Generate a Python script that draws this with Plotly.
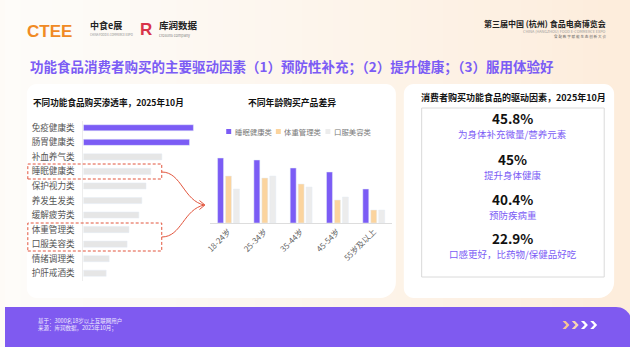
import plotly.graph_objects as go

W, H = 630, 347
FONT = "Noto Sans CJK SC, Noto Sans, sans-serif"
PURPLE = "#7B5CF5"
ORANGE = "#FBD49E"
LGREY = "#ECECEC"
RED = "#E2553D"

# ---------------- data ----------------
pen_categories = ["免疫健康类", "肠胃健康类", "补血养气类", "睡眠健康类", "保护视力类",
                  "养发生发类", "缓解疲劳类", "体重管理类", "口服美容类", "情绪调理类", "护肝戒酒类"]
pen_values = [47.8, 46.1, 34.1, 29.3, 27.2, 25.4, 24.1, 19.8, 19.0, 11.2, 9.9]

age_groups = ["18-24岁", "25-34岁", "35-44岁", "45-54岁", "55岁及以上"]
series_names = ["睡眠健康类", "体重管理类", "口服美容类"]
sleep_vals = [65, 63, 55, 51, 34]
weight_vals = [47, 45, 39, 23, 13]
beauty_vals = [34, 47, 36, 26, 13]

driver_values = ["45.8%", "45%", "40.4%", "22.9%"]
driver_labels = ["为身体补充微量/营养元素", "提升身体健康", "预防疾病重", "口感更好，比药物/保健品好吃"]


# ---------------- helpers ----------------
def px(x):
    return x / W


def py(y):
    return 1 - y / H


def P(x, y):
    return f"{px(x):.5f},{py(y):.5f}"


def rrect(x0, y0, x1, y1, r=(0, 0, 0, 0)):
    """rounded rect path, r=(tl, tr, br, bl) in px"""
    tl, tr, br, bl = r
    k = 0.5523
    s = f"M{P(x0 + tl, y0)} L{P(x1 - tr, y0)} "
    if tr:
        s += f"C{P(x1 - tr + tr * k, y0)} {P(x1, y0 + tr - tr * k)} {P(x1, y0 + tr)} "
    s += f"L{P(x1, y1 - br)} "
    if br:
        s += f"C{P(x1, y1 - br + br * k)} {P(x1 - br + br * k, y1)} {P(x1 - br, y1)} "
    s += f"L{P(x0 + bl, y1)} "
    if bl:
        s += f"C{P(x0 + bl - bl * k, y1)} {P(x0, y1 - bl + bl * k)} {P(x0, y1 - bl)} "
    s += f"L{P(x0, y0 + tl)} "
    if tl:
        s += f"C{P(x0, y0 + tl - tl * k)} {P(x0 + tl - tl * k, y0)} {P(x0 + tl, y0)} "
    return s + "Z"


shapes = []
annos = []


def text(x, y, t, size, color="#222", bold=False, xanchor="left", family=FONT):
    if bold:
        t = f"<b>{t}</b>"
    annos.append(dict(x=px(x), y=py(y), xref="paper", yref="paper", text=t, showarrow=False,
                      xanchor=xanchor, yanchor="middle", borderpad=0,
                      font=dict(size=size, color=color, family=family)))


# background gradient
N = 40
c0 = (254, 252, 249)
c1 = (253, 237, 220)
for i in range(N):
    t = i / (N - 1)
    c = tuple(int(c0[j] + (c1[j] - c0[j]) * t ** 1.2) for j in range(3))
    shapes.append(dict(type="rect", xref="paper", yref="paper", x0=i / N, x1=(i + 1) / N + 0.002,
                       y0=0, y1=1, fillcolor=f"rgb{c}", line_width=0, layer="below"))

# panels
shapes.append(dict(type="path", xref="paper", yref="paper", path=rrect(22, 84, 394, 298, (10, 10, 16, 10)),
                   fillcolor="white", line_width=0, layer="below"))
shapes.append(dict(type="path", xref="paper", yref="paper", path=rrect(402, 84, 614, 298, (10, 10, 16, 10)),
                   fillcolor="white", line_width=0, layer="below"))
shapes.append(dict(type="rect", xref="paper", yref="paper", x0=px(420), x1=px(604), y0=py(277), y1=py(108),
                   fillcolor="rgba(0,0,0,0)", line=dict(color="#DADADA", width=1), layer="below"))

# footer
shapes.append(dict(type="path", xref="paper", yref="paper", path=rrect(0, 307, 632, 348, (0, 16, 0, 0)),
                   fillcolor="#7F5AF0", line_width=0, layer="below"))
chev_cols = ["#F6C494", "#F8D6B4", "#FFFFFF", "#FFFFFF"]
for i, cc in enumerate(chev_cols):
    x = 562 + i * 9.3
    y = 325
    path = (f"M{P(x, y - 4)} L{P(x + 3.2, y - 4)} L{P(x + 7, y)} L{P(x + 3.2, y + 4)} "
            f"L{P(x, y + 4)} L{P(x + 3.8, y)} Z")
    shapes.append(dict(type="path", xref="paper", yref="paper", path=path, fillcolor=cc, line_width=0))
text(32, 320.5, "基于：3000名18岁以上互联网用户", 5.5, "#F1ECFF")
text(32, 327.5, "来源：库润数据，2025年10月；", 5.5, "#F1ECFF")

# header logos
text(21, 31, "CTEE", 17, "#F08A24", bold=True, family="Liberation Sans, Arial")
text(85, 25.5, "中食e展", 9, "#222", bold=True)
text(85, 35, "CHINA FOOD E-COMMERCE EXPO", 2.8, "#888")
text(135, 30, "R", 17, "#D8344A", bold=True, family="Liberation Sans, Arial")
text(154, 25.5, "库润数据", 9.5, "#222", bold=True)
text(154, 35, "crosuns company", 3.8, "#888")
text(607, 24, "第三届中国 (杭州) 食品电商博览会", 8, "#222", bold=True, xanchor="right")
text(607, 31, "CHINA (HANGZHOU) FOOD E-COMMERCE EXPO", 3.8, "#999", xanchor="right")
text(607, 36, "食 配 数 字 赋 能 生 态 创 新 大 会", 3.6, "#666", xanchor="right")

# main title
text(24, 66, "功能食品消费者购买的主要驱动因素（1）预防性补充；（2）提升健康；（3）服用体验好", 13.5, PURPLE, bold=True)

# left chart title
text(27, 102, "不同功能食品购买渗透率，2025年10月", 8.6, "#111", bold=True)
# middle chart title
text(289, 102, "不同年龄购买产品差异", 8.8, "#111", bold=True, xanchor="center")
# right panel title
text(513, 97, "消费者购买功能食品的驱动因素，2025年10月", 9, "#111", bold=True, xanchor="center")

# right panel values
ys = [(117.5, 133.5), (158.5, 174.5), (198.5, 214.5), (237.5, 253.5)]
for (yv, yl), v, lab in zip(ys, driver_values, driver_labels):
    text(512, yv, v, 13.5, "#111", bold=True, xanchor="center")
    text(512, yl, lab, 9.5, PURPLE, xanchor="center")

# middle legend (manual)
leg_cols = [PURPLE, ORANGE, LGREY]
for i, (nm, cc) in enumerate(zip(series_names, leg_cols)):
    x = 223 + i * 50
    shapes.append(dict(type="rect", xref="paper", yref="paper", x0=px(x), x1=px(x + 5), y0=py(134), y1=py(129),
                       fillcolor=cc, line_width=0))
    text(x + 7.5, 131.5, nm, 7.4, "#777")

# dashed boxes
for (y0, y1) in [(164, 179), (223, 251)]:
    shapes.append(dict(type="rect", xref="paper", yref="paper", x0=px(23), x1=px(158), y0=py(y1), y1=py(y0),
                       fillcolor="rgba(0,0,0,0)", line=dict(color=RED, width=1, dash="3px,2px")))
# curved arrows
shapes.append(dict(type="path", xref="paper", yref="paper",
                   path=f"M{P(158, 172)} C{P(178, 172)} {P(180, 201)} {P(201, 205)}",
                   line=dict(color=RED, width=1)))
shapes.append(dict(type="path", xref="paper", yref="paper",
                   path=f"M{P(158, 237)} C{P(178, 237)} {P(180, 209)} {P(201, 205)}",
                   line=dict(color=RED, width=1)))
shapes.append(dict(type="path", xref="paper", yref="paper",
                   path=f"M{P(196, 200.5)} L{P(201.5, 205)} L{P(196, 209.5)}",
                   line=dict(color=RED, width=1)))

# ---------------- traces ----------------
fig = go.Figure()
bar_cols = [PURPLE if i < 2 else "#E6E6E6" for i in range(len(pen_values))]
fig.add_trace(go.Bar(x=pen_values, y=pen_categories, orientation="h", marker_color=bar_cols,
                     width=0.42, xaxis="x", yaxis="y", showlegend=False, hoverinfo="skip"))

for nm, vals, cc in zip(series_names, [sleep_vals, weight_vals, beauty_vals], leg_cols):
    fig.add_trace(go.Bar(x=age_groups, y=vals, name=nm, marker_color=cc, xaxis="x2", yaxis="y2",
                         showlegend=False))

fig.update_layout(
    width=W, height=H, margin=dict(l=0, r=0, t=0, b=0),
    paper_bgcolor="#FEFBF7", plot_bgcolor="rgba(0,0,0,0)",
    font=dict(family=FONT),
    barmode="group", bargap=0.343, bargroupgap=0.25,
    xaxis=dict(domain=[px(79), px(195)], range=[0, 50], visible=False, fixedrange=True),
    yaxis=dict(domain=[py(280.5), py(120.5)], type="category", autorange="reversed",
               showline=True, linecolor="#EDEDED", linewidth=1, ticks="", showgrid=False,
               tickfont=dict(size=8.6, color="#555"), ticklabelstandoff=6, anchor="x"),
    xaxis2=dict(domain=[px(207), px(390)], showline=True, linecolor="#DDDDDD", linewidth=1, ticks="",
                tickangle=-45, tickfont=dict(size=8, color="#666"), anchor="y2", showgrid=False),
    yaxis2=dict(domain=[py(223), py(143)], range=[0, 80], visible=False, anchor="x2"),
    shapes=shapes, annotations=annos,
)

fig.write_html("out.html")
